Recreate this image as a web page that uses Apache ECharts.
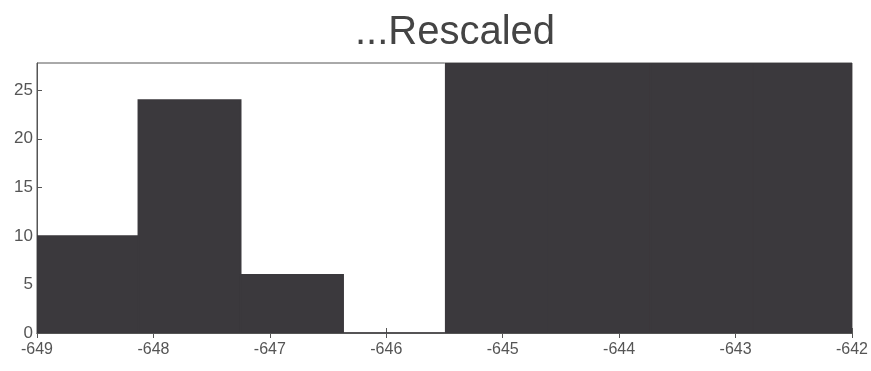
<!DOCTYPE html>
<html>
<head>
<meta charset="utf-8">
<script src="https://cdn.jsdelivr.net/npm/echarts@6/dist/echarts.min.js"></script>
<style>html,body{margin:0;padding:0;background:#fff}#c{width:871px;height:371px}</style>
</head>
<body>
<div id="c"></div>
<script>
// Histogram bin edges (left edge of each bin), bin width and counts
const binStarts = [-649.89, -649.01, -648.13, -647.25, -646.37, -645.49, -644.61, -643.73, -642.85];
const binWidth = 0.88;
const counts = [10, 10, 24, 6, 0, 45, 60, 52, 38];
const xTicks = [-649, -648, -647, -646, -645, -644, -643, -642];
const yTicks = [0, 5, 10, 15, 20, 25];
const titleText = '...Rescaled';

const data = binStarts.map((s, i) => [s, s + binWidth, counts[i]]);
const font = 'Liberation Sans, Arial, Helvetica, sans-serif';

const chart = echarts.init(document.getElementById('c'));
chart.setOption({
  backgroundColor: '#ffffff',
  animation: false,
  title: {
    text: titleText,
    left: 450, top: 8, textAlign: 'center',
    textStyle: {fontFamily: font, fontSize: 40, fontWeight: 'normal', color: '#444'}
  },
  grid: {left: 37, right: 18, top: 63, bottom: 38, show: true, borderColor: '#555', borderWidth: 1, backgroundColor: 'transparent'},
  xAxis: [{
    type: 'value', min: xTicks[0], max: xTicks[xTicks.length - 1], interval: 1,
    axisLine: {show: true, onZero: false, lineStyle: {color: '#555'}},
    axisTick: {show: true, inside: true, length: 5, lineStyle: {color: '#555'}},
    axisLabel: {fontFamily: font, fontSize: 16, color: '#555', margin: 9},
    splitLine: {show: false}
  }, {
    type: 'value', position: 'top', min: xTicks[0], max: xTicks[xTicks.length - 1], interval: 1,
    axisLine: {show: true, lineStyle: {color: '#555'}},
    axisTick: {show: true, inside: true, length: 5, lineStyle: {color: '#555'}},
    axisLabel: {show: false}, splitLine: {show: false}
  }],
  yAxis: {
    type: 'value', min: 0, max: 27.8, interval: 5,
    axisLine: {show: true, lineStyle: {color: '#555'}},
    axisTick: {show: true, inside: true, length: 5, lineStyle: {color: '#555'}},
    axisLabel: {fontFamily: font, fontSize: 17, color: '#555', margin: 4, showMaxLabel: false,
      formatter: v => (yTicks.indexOf(v) >= 0 ? String(v) : '')},
    splitLine: {show: false}
  },
  series: [{
    type: 'custom',
    clip: true,
    data: data,
    encode: {x: [0, 1], y: 2},
    renderItem: function (params, api) {
      const p0 = api.coord([api.value(0), 0]);
      const p1 = api.coord([api.value(1), api.value(2)]);
      const rect = echarts.graphic.clipRectByRect({
        x: p0[0], y: p1[1], width: p1[0] - p0[0], height: p0[1] - p1[1]
      }, {
        x: params.coordSys.x, y: params.coordSys.y,
        width: params.coordSys.width, height: params.coordSys.height
      });
      if (!rect) return;
      return {type: 'rect', shape: rect, style: {fill: '#3b393d', stroke: '#3b393d', lineWidth: 1.5}};
    },
    z: 1
  }]
});
</script>
</body>
</html>
